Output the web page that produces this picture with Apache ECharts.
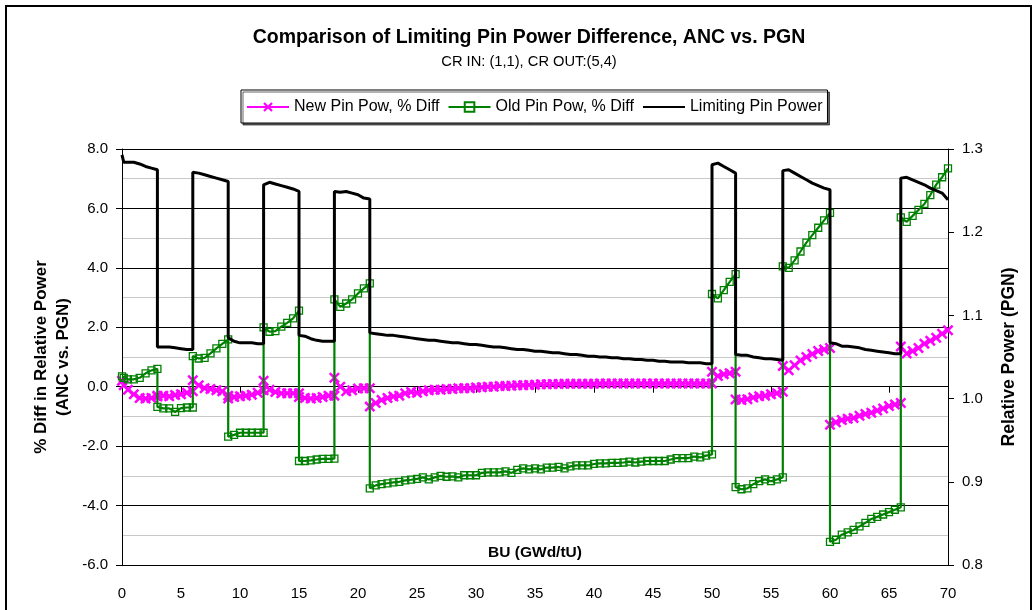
<!DOCTYPE html>
<html>
<head>
<meta charset="utf-8">
<script src="https://cdn.jsdelivr.net/npm/echarts@6/dist/echarts.min.js"></script>
<style>
html,body{margin:0;padding:0;background:#fff;}
#chart{width:1036px;height:610px;}
</style>
</head>
<body>
<div id="chart"></div>
<script>
// Burnup (GWd/tU); repeated values mark the step changes of the limiting pin
const bu = [
  0, 0.15, 0.5, 1, 1.5, 2, 2.5, 3,
  3, 3.5, 4, 4.5, 5, 5.5, 6,
  6, 6.5, 7, 7.5, 8, 8.5, 9,
  9, 9.5, 10, 10.5, 11, 11.5, 12,
  12, 12.5, 13, 13.5, 14, 14.5, 15,
  15, 15.5, 16, 16.5, 17, 17.5, 18,
  18, 18.5, 19, 19.5, 20, 20.5, 21,
  21, 21.5, 22, 22.5, 23, 23.5, 24, 24.5, 25, 25.5, 26, 26.5, 27, 27.5, 28, 28.5, 29, 29.5, 30,
  30.5, 31, 31.5, 32, 32.5, 33, 33.5, 34, 34.5, 35, 35.5, 36, 36.5, 37, 37.5, 38, 38.5, 39, 39.5, 40,
  40.5, 41, 41.5, 42, 42.5, 43, 43.5, 44, 44.5, 45, 45.5, 46, 46.5, 47, 47.5, 48, 48.5, 49, 49.5, 50,
  50, 50.5, 51, 51.5, 52,
  52, 52.5, 53, 53.5, 54, 54.5, 55, 55.5, 56,
  56, 56.5, 57, 57.5, 58, 58.5, 59, 59.5, 60,
  60, 60.5, 61, 61.5, 62, 62.5, 63, 63.5, 64, 64.5, 65, 65.5, 66,
  66, 66.5, 67, 67.5, 68, 68.5, 69, 69.5, 70
];

// New Pin Pow, % Diff
const newDiff = [
  0.20, 0.05, -0.10, -0.25, -0.38, -0.40, -0.38, -0.33,
  -0.30, -0.30, -0.32, -0.28, -0.25, -0.20, -0.15,
  0.22, 0.05, -0.05, -0.08, -0.12, -0.15, -0.30,
  -0.40, -0.35, -0.32, -0.30, -0.27, -0.20, -0.12,
  0.20, -0.10, -0.18, -0.22, -0.22, -0.22, -0.22,
  -0.35, -0.38, -0.40, -0.38, -0.35, -0.30, -0.30,
  0.30, 0.00, -0.15, -0.12, -0.06, -0.05, -0.05,
  -0.67, -0.55, -0.45, -0.38, -0.33, -0.30, -0.22, -0.18, -0.20, -0.15, -0.12, -0.10, -0.10, -0.08, -0.08, -0.05, -0.05, -0.05, -0.03,
  -0.02, 0.00, 0.00, 0.02, 0.02, 0.03, 0.05, 0.05, 0.06, 0.07, 0.08, 0.08, 0.09, 0.09, 0.10, 0.10, 0.10, 0.10, 0.10, 0.10,
  0.11, 0.11, 0.11, 0.11, 0.11, 0.11, 0.11, 0.11, 0.11, 0.11, 0.11, 0.11, 0.11, 0.11, 0.11, 0.11, 0.11, 0.11, 0.11, 0.11,
  0.50, 0.36, 0.42, 0.45, 0.50,
  -0.43, -0.45, -0.42, -0.36, -0.32, -0.30, -0.25, -0.22, -0.17,
  0.70, 0.55, 0.72, 0.88, 1.00, 1.10, 1.20, 1.25, 1.30,
  -1.28, -1.20, -1.12, -1.08, -1.05, -0.98, -0.92, -0.88, -0.80, -0.73, -0.65, -0.60, -0.55,
  1.35, 1.12, 1.20, 1.30, 1.45, 1.55, 1.65, 1.78, 1.90
];

// Old Pin Pow, % Diff
const oldDiff = [
  0.35, 0.30, 0.25, 0.25, 0.30, 0.45, 0.55, 0.60,
  -0.68, -0.73, -0.73, -0.85, -0.72, -0.70, -0.70,
  1.03, 0.95, 0.97, 1.12, 1.29, 1.44, 1.59,
  -1.68, -1.62, -1.55, -1.55, -1.55, -1.55, -1.55,
  2.00, 1.85, 1.87, 2.02, 2.15, 2.30, 2.56,
  -2.50, -2.50, -2.48, -2.45, -2.43, -2.43, -2.42,
  2.94, 2.69, 2.80, 2.94, 3.14, 3.31, 3.48,
  -3.42, -3.32, -3.28, -3.25, -3.22, -3.20, -3.15, -3.13, -3.10, -3.05, -3.12, -3.05, -3.00, -3.03, -3.02, -3.05, -2.98, -2.98, -2.98,
  -2.90, -2.88, -2.88, -2.88, -2.85, -2.90, -2.80, -2.75, -2.78, -2.75, -2.78, -2.72, -2.72, -2.70, -2.75, -2.68, -2.65, -2.65, -2.65, -2.60,
  -2.58, -2.58, -2.56, -2.56, -2.55, -2.52, -2.55, -2.52, -2.50, -2.50, -2.50, -2.50, -2.45, -2.40, -2.40, -2.40, -2.35, -2.38, -2.32, -2.28,
  3.12, 2.97, 3.25, 3.53, 3.79,
  -3.38, -3.45, -3.42, -3.28, -3.18, -3.12, -3.18, -3.12, -3.05,
  4.05, 4.00, 4.25, 4.55, 4.85, 5.10, 5.35, 5.60, 5.85,
  -5.22, -5.15, -4.98, -4.90, -4.82, -4.70, -4.58, -4.45, -4.38, -4.30, -4.22, -4.14, -4.06,
  5.70, 5.55, 5.75, 5.95, 6.15, 6.45, 6.80, 7.05, 7.35
];

// Limiting Pin Power (relative, PGN)
const limPower = [
  1.293, 1.284, 1.284, 1.284, 1.282, 1.279, 1.277, 1.275,
  1.062, 1.062, 1.062, 1.061, 1.060, 1.059, 1.059,
  1.272, 1.271, 1.269, 1.267, 1.265, 1.263, 1.261,
  1.073, 1.069, 1.067, 1.067, 1.067, 1.066, 1.066,
  1.257, 1.260, 1.258, 1.256, 1.254, 1.252, 1.249,
  1.076, 1.075, 1.072, 1.070, 1.069, 1.069, 1.069,
  1.249, 1.248, 1.249, 1.247, 1.245, 1.241, 1.240,
  1.079, 1.078, 1.077, 1.076, 1.076, 1.075, 1.074, 1.073, 1.072, 1.071, 1.070, 1.070, 1.069, 1.068, 1.067, 1.067, 1.066, 1.065, 1.065,
  1.064, 1.063, 1.062, 1.062, 1.061, 1.060, 1.059, 1.059, 1.058, 1.057, 1.057, 1.056, 1.055, 1.055, 1.054, 1.053, 1.053, 1.052, 1.051, 1.051,
  1.050, 1.050, 1.049, 1.049, 1.048, 1.048, 1.047, 1.047, 1.046, 1.046, 1.045, 1.045, 1.044, 1.044, 1.044, 1.043, 1.043, 1.043, 1.042, 1.042,
  1.281, 1.283, 1.279, 1.275, 1.271,
  1.053, 1.052, 1.052, 1.050, 1.049, 1.048, 1.048, 1.047, 1.046,
  1.274, 1.275, 1.271, 1.267, 1.263, 1.259, 1.256, 1.253, 1.251,
  1.067, 1.066, 1.063, 1.063, 1.062, 1.061, 1.059, 1.058, 1.057, 1.056, 1.055, 1.054, 1.054,
  1.265, 1.266, 1.263, 1.260, 1.257, 1.253, 1.250, 1.247, 1.239
];

const seriesNames = ['New Pin Pow, % Diff', 'Old Pin Pow, % Diff', 'Limiting Pin Power'];
const titleText = 'Comparison of Limiting Pin Power Difference, ANC vs. PGN';
const subtitleText = 'CR IN: (1,1), CR OUT:(5,4)';
const xName = 'BU (GWd/tU)';
const yLeftName = '% Diff in Relative Power\n(ANC vs. PGN)';
const yRightName = 'Relative Power (PGN)';

const FONT = "Arial, 'Liberation Sans', sans-serif";
const zip = (ys) => bu.map((x, i) => [x, ys[i]]);
const xMarker = 'path://M0,1.6 L1.6,0 L10,8.4 L8.4,10 Z M8.4,0 L10,1.6 L1.6,10 L0,8.4 Z';

const chart = echarts.init(document.getElementById('chart'), null, {renderer: 'canvas'});
chart.setOption({
  animation: false,
  backgroundColor: '#fff',
  textStyle: {fontFamily: FONT},
  title: [
    {text: titleText, left: 529, top: 28, textAlign: 'center', padding: 0,
     textStyle: {fontFamily: FONT, fontSize: 19.5, fontWeight: 'bold', color: '#000'}},
    {text: subtitleText, left: 529, top: 54, textAlign: 'center', padding: 0,
     textStyle: {fontFamily: FONT, fontSize: 14.7, fontWeight: 'normal', color: '#000'}}
  ],
  legend: {
    data: [
      {name: seriesNames[0]},
      {name: seriesNames[1]},
      {name: seriesNames[2], itemStyle: {opacity: 0}}
    ],
    left: 241, top: 90,
    padding: [9, 5, 8, 5],
    itemGap: 8,
    itemWidth: 42, itemHeight: 12,
    borderColor: '#000', borderWidth: 1,
    backgroundColor: '#fff',
    shadowColor: 'rgba(0,0,0,0.6)', shadowOffsetX: 2, shadowOffsetY: 2, shadowBlur: 0,
    textStyle: {fontFamily: FONT, fontSize: 16, color: '#000'}
  },
  grid: {left: 122, right: 88, top: 149, bottom: 45, containLabel: false, outerBoundsMode: 'none'},
  xAxis: {
    type: 'value', min: 0, max: 70, interval: 5,
    name: xName, nameLocation: 'middle', nameGap: -20, nameMoveOverlap: false,
    nameTextStyle: {fontFamily: FONT, fontSize: 15.5, fontWeight: 'bold', color: '#000'},
    axisLine: {show: true, lineStyle: {color: '#000', width: 1}},
    axisTick: {show: true, length: 6, lineStyle: {color: '#000'}},
    axisLabel: {fontFamily: FONT, fontSize: 15, color: '#000', margin: 21},
    splitLine: {show: false}
  },
  yAxis: [
    {
      type: 'value', min: -6, max: 8, interval: 2, position: 'left',
      name: yLeftName, nameLocation: 'middle', nameRotate: 90, nameGap: 48, nameMoveOverlap: false,
      nameTextStyle: {fontFamily: FONT, fontSize: 17, fontWeight: 'bold', color: '#000', lineHeight: 22},
      axisLine: {show: true, lineStyle: {color: '#000', width: 1}},
      axisTick: {show: true, length: 6, lineStyle: {color: '#000'}},
      axisLabel: {fontFamily: FONT, fontSize: 15, color: '#000', margin: 14,
                  formatter: (v) => v.toFixed(1)},
      splitLine: {show: true, lineStyle: {color: '#000', width: 1}},
      minorTick: {show: false, splitNumber: 2},
      minorSplitLine: {show: true, lineStyle: {color: '#c8c8c8', width: 1}}
    },
    {
      type: 'value', min: 0.8, max: 1.3, interval: 0.1, position: 'right',
      name: yRightName, nameLocation: 'middle', nameRotate: 90, nameGap: 52, nameMoveOverlap: false,
      nameTextStyle: {fontFamily: FONT, fontSize: 17.5, fontWeight: 'bold', color: '#000'},
      axisLine: {show: true, lineStyle: {color: '#000', width: 1}},
      axisTick: {show: true, length: 6, lineStyle: {color: '#000'}},
      axisLabel: {fontFamily: FONT, fontSize: 15, color: '#000', margin: 14,
                  formatter: (v) => v.toFixed(1)},
      splitLine: {show: false}
    }
  ],
  series: [
    {
      name: seriesNames[0], type: 'line', yAxisIndex: 0,
      data: zip(newDiff),
      symbol: xMarker, symbolSize: 11, showAllSymbol: true,
      color: '#FF00FF',
      itemStyle: {color: '#FF00FF'},
      lineStyle: {color: '#FF00FF', width: 1.8},
      z: 2
    },
    {
      name: seriesNames[1], type: 'line', yAxisIndex: 0,
      data: zip(oldDiff),
      symbol: 'rect', symbolSize: 7, showAllSymbol: true,
      color: '#008000',
      itemStyle: {color: 'rgba(255,255,255,0)', borderColor: '#008000', borderWidth: 1.3},
      lineStyle: {color: '#008000', width: 2.2},
      z: 3
    },
    {
      name: seriesNames[2], type: 'line', yAxisIndex: 1,
      data: zip(limPower),
      symbol: 'none',
      color: '#000',
      lineStyle: {color: '#000', width: 3},
      z: 4
    }
  ],
  graphic: [
    {type: 'rect', silent: true, z: -10,
     shape: {x: 6, y: 6, width: 1025, height: 620},
     style: {fill: 'none', stroke: '#000', lineWidth: 2}}
  ]
});
</script>
</body>
</html>
